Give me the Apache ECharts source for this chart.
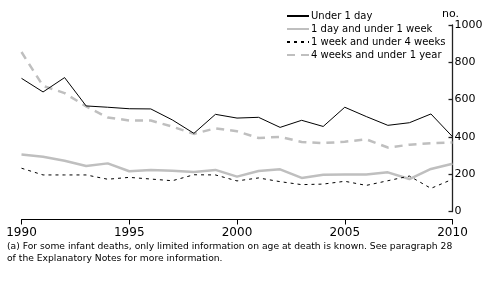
<!DOCTYPE html>
<html>
<head>
<meta charset="utf-8">
<script src="https://cdn.jsdelivr.net/npm/echarts@6/dist/echarts.min.js"></script>
<style>
  html, body { margin: 0; padding: 0; background: #fff; }
  #chart { width: 496px; height: 284px; }
</style>
</head>
<body>
<div id="chart"></div>
<script>
const years = ['1990', '1991', '1992', '1993', '1994', '1995', '1996', '1997', '1998', '1999', '2000',
  '2001', '2002', '2003', '2004', '2005', '2006', '2007', '2008', '2009', '2010'];
const under1Day = [714, 641, 718, 566, 559, 551, 550, 491, 419, 521, 501, 505, 451, 489, 456, 559, 509, 462, 476, 523, 401];
const day1ToWeek1 = [305, 294, 272, 244, 258, 216, 223, 219, 212, 223, 187, 217, 226, 180, 197, 199, 199, 210, 174, 228, 256];
const week1ToWeek4 = [232, 196, 196, 196, 173, 183, 174, 165, 197, 196, 164, 180, 160, 144, 147, 162, 140, 165, 190, 124, 173];
const week4ToYear1 = [855, 673, 635, 563, 504, 488, 488, 455, 416, 446, 430, 394, 400, 373, 367, 374, 387, 343, 358, 366, 370];
const yTicks = [0, 200, 400, 600, 800, 1000];

const seriesNames = ['Under 1 day', '1 day and under 1 week', '1 week and under 4 weeks', '4 weeks and under 1 year'];
const font = 'DejaVu Sans';
const grey = '#bfbfbf';
// plain black did not show up on the right axis, a dark grey a bit thicker should
const axisDark = '#222';

const chart = echarts.init(document.getElementById('chart'));

function lineSeries(name, data, color, width, dash, z) {
  return {
    name: name,
    type: 'line',
    data: data,
    symbol: 'none',
    z: z,
    lineStyle: { color: color, width: width, type: dash },
    itemStyle: { color: color }
  };
}

chart.setOption({
  animation: false,
  textStyle: { fontFamily: font },
  title: [
    {
      text: 'no.',
      left: 437,
      top: 4,
      textStyle: { fontSize: 11, fontWeight: 'normal', color: '#000', fontFamily: font }
    },
    {
      // footnote under the chart
      text: '(a) For some infant deaths, only limited information on age at death is known. See paragraph 28\nof the Explanatory Notes for more information.',
      left: 2,
      top: 236,
      textStyle: { fontSize: 9.2, fontWeight: 'normal', color: '#000', lineHeight: 12, fontFamily: font }
    }
  ],
  legend: {
    orient: 'vertical',
    left: 286,
    top: 11,
    padding: 0,
    itemWidth: 22,
    itemHeight: 8,
    itemGap: 3,
    data: seriesNames,
    // hide the symbol on the line icons, keep the line
    itemStyle: { opacity: 0 },
    textStyle: { fontSize: 10, color: '#000', fontFamily: font, padding: [0, 0, 0, -3] }
  },
  grid: { left: 21.5, right: 43.5, top: 25, bottom: 72.5, containLabel: false },
  xAxis: {
    type: 'category',
    data: years,
    boundaryGap: false,
    offset: 8,
    axisLine: { onZero: false, lineStyle: { color: '#000', width: 1 } },
    axisTick: { interval: 4, length: 5, lineStyle: { color: '#000' } },
    axisLabel: { interval: 4, fontSize: 12, color: '#000', margin: 7, fontFamily: font },
    splitLine: { show: false }
  },
  yAxis: {
    type: 'value',
    position: 'right',
    min: yTicks[0],
    max: yTicks[yTicks.length - 1],
    interval: 200,
    axisLine: { show: true, lineStyle: { color: axisDark, width: 1.3 } },
    axisTick: { show: true, inside: true, length: 4, lineStyle: { color: axisDark, width: 1.3 } },
    axisLabel: { fontSize: 11, color: '#000', margin: 2, fontFamily: font, formatter: v => String(v) },
    splitLine: { show: false }
  },
  series: [
    lineSeries(seriesNames[3], week4ToYear1, grey, 2.5, [8, 6], 1),
    lineSeries(seriesNames[1], day1ToWeek1, grey, 2.5, 'solid', 2),
    lineSeries(seriesNames[2], week1ToWeek4, '#000', 1, [3, 4], 3),
    lineSeries(seriesNames[0], under1Day, '#000', 1, 'solid', 4)
  ]
});
</script>
</body>
</html>
